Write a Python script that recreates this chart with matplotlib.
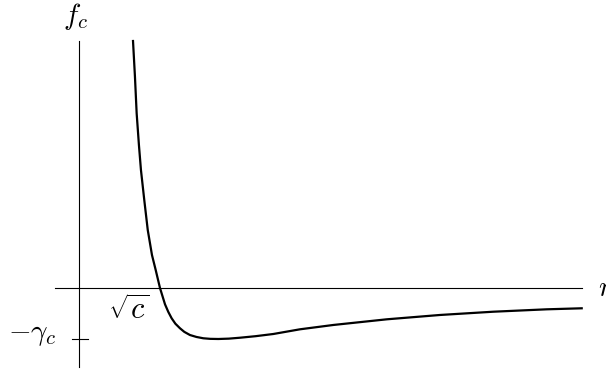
import matplotlib
matplotlib.use("Agg")
import matplotlib.pyplot as plt

plt.rcParams['mathtext.fontset'] = 'cm'

# curve points (r in units of sqrt(c), f in units of gamma_c)
r_vals = [0.667, 0.691, 0.712, 0.740, 0.765, 0.806, 0.849, 0.901, 0.947,
          1.0, 1.062, 1.103, 1.144, 1.19, 1.247, 1.30, 1.37, 1.45, 1.535,
          1.62, 1.72, 1.85, 1.988, 2.18, 2.399, 2.728, 3.14, 3.80, 4.457,
          5.115, 5.774, 6.206]
f_vals = [4.843, 4.143, 3.425, 2.804, 2.314, 1.725, 1.137, 0.647, 0.353,
          0.0, -0.32, -0.47, -0.594, -0.70, -0.79, -0.86, -0.922, -0.96, -0.986,
          -0.997, -1.0, -0.993, -0.975, -0.945, -0.902, -0.81, -0.725, -0.614, -0.529,
          -0.465, -0.418, -0.398]

fig = plt.figure(figsize=(6.06, 3.75), dpi=100)
ax = fig.add_axes([0, 0, 1, 1])
ax.set_xlim(-0.975, 6.506)
ax.set_ylim(-1.706, 5.647)
ax.axis('off')

# axes lines and the -gamma_c tick
ax.plot([-0.296, 6.21], [0, 0], color='black', lw=0.8)
ax.plot([0, 0], [-1.549, 4.843], color='black', lw=0.8)
ax.plot([-0.086, 0.111], [-1, -1], color='black', lw=0.8)

# the curve
ax.plot(r_vals, f_vals, color='black', lw=1.6, solid_joinstyle='round')

# labels
ax.text(-0.037, 5.333, r'$f_c$', fontsize=21, ha='center', va='center')
ax.text(-0.574, -0.902, r'$-\gamma_c$', fontsize=21, ha='center', va='center')
ax.text(0.611, -0.431, r'$\sqrt{c}$', fontsize=22, ha='center', va='center')
ax.text(6.407, 0.0, r'$r$', fontsize=21, ha='left', va='center')

fig.savefig('out.png', dpi=100)
